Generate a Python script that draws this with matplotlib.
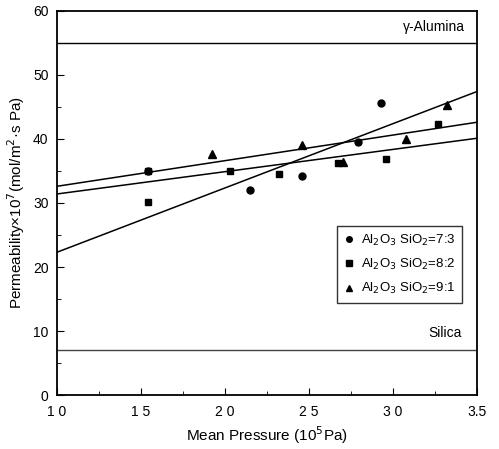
import matplotlib.pyplot as plt
from matplotlib.ticker import MultipleLocator

plt.rcParams['font.family'] = ['Liberation Sans', 'DejaVu Sans']

# Al2O3:SiO2 = 7:3 (circles)
p73 = [1.54, 2.15, 2.46, 2.79, 2.93]
k73 = [35.0, 32.0, 34.2, 39.5, 45.6]
# Al2O3:SiO2 = 8:2 (squares)
p82 = [1.54, 1.54, 2.03, 2.32, 2.67, 2.96, 3.27]
k82 = [35.0, 30.2, 35.0, 34.5, 36.2, 36.9, 42.3]
# Al2O3:SiO2 = 9:1 (triangles)
p91 = [1.92, 2.46, 2.70, 3.08, 3.32]
k91 = [37.7, 39.1, 36.4, 40.0, 45.3]

# fitted lines, read at x = 1.0 and x = 3.5
fit_x = [1.0, 3.5]
fit73 = [22.3, 47.4]
fit82 = [31.4, 40.1]
fit91 = [32.6, 42.6]

alumina = 55.0
silica = 7.0

xticks = [1.0, 1.5, 2.0, 2.5, 3.0, 3.5]
xlabels = ["1 0", "1 5", "2 0", "2 5", "3 0", "3.5"]
yticks = [0, 10, 20, 30, 40, 50, 60]

fig = plt.figure(figsize=(4.99, 4.49), dpi=100)
ax = fig.add_axes([0.114, 0.12, 0.842, 0.856])

ax.axhline(alumina, color="black", lw=1.0)
ax.axhline(silica, color="#444444", lw=1.0)

ax.plot(fit_x, fit73, color="black", lw=1.1)
ax.plot(fit_x, fit82, color="black", lw=1.1)
ax.plot(fit_x, fit91, color="black", lw=1.1)

ax.plot(p73, k73, "o", color="black", ms=5, label="Al$_2$O$_3$ SiO$_2$=7:3")
ax.plot(p82, k82, "s", color="black", ms=5, label="Al$_2$O$_3$ SiO$_2$=8:2")
ax.plot(p91, k91, "^", color="black", ms=6, label="Al$_2$O$_3$ SiO$_2$=9:1")

ax.text(3.43, 56.3, "γ-Alumina", ha="right", va="bottom", fontsize=10)
ax.text(3.41, 8.6, "Silica", ha="right", va="bottom", fontsize=10)

ax.set_xlim(1.0, 3.5)
ax.set_ylim(0, 60)
ax.set_xticks(xticks)
ax.set_xticklabels(xlabels)
ax.set_yticks(yticks)
ax.xaxis.set_minor_locator(MultipleLocator(0.25))
ax.yaxis.set_minor_locator(MultipleLocator(5))
ax.tick_params(which="both", direction="in", top=False, right=False, labelsize=10)
ax.tick_params(which="major", length=5)
ax.tick_params(which="minor", length=3)
ax.tick_params(axis="x", which="major", pad=7)
ax.tick_params(axis="y", which="major", pad=6)
for s in ax.spines.values():
    s.set_linewidth(1.3)

ax.set_xlabel("Mean Pressure (10$^5$Pa)", fontsize=11)
ax.set_ylabel("Permeability×10$^7$(mol/m$^2$·s Pa)", fontsize=11)

leg = ax.legend(loc="center right", bbox_to_anchor=(0.98, 0.34), fontsize=9.5,
                frameon=True, fancybox=False, edgecolor="black",
                handlelength=0.8, handletextpad=0.5, borderpad=0.5, labelspacing=0.7)
leg.get_frame().set_linewidth(1.0)
for h in leg.legend_handles:
    h.set_markersize(4)

fig.savefig("out.png", dpi=100)
